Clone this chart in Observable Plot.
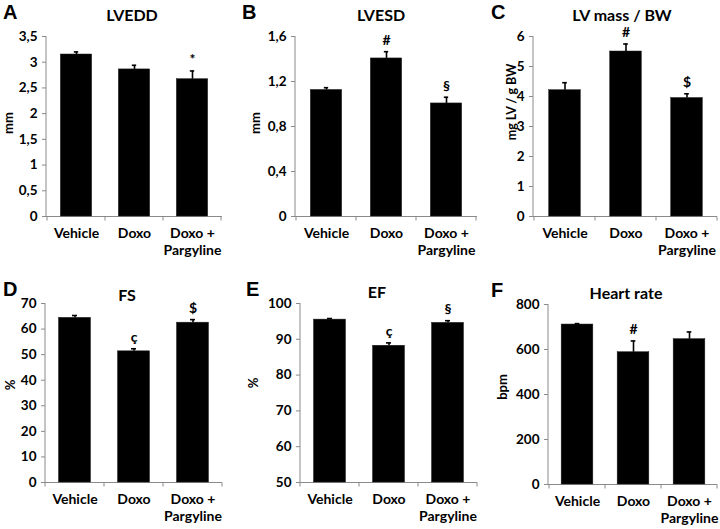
<!DOCTYPE html>
<html><head><meta charset="utf-8">
<script src="https://cdn.jsdelivr.net/npm/d3@7"></script>
<script src="https://cdn.jsdelivr.net/npm/@observablehq/plot@0.6"></script>
<style>
body{margin:0;background:#fff;}
#fig{position:relative;width:720px;height:529px;overflow:hidden;font-family:Lato,"Open Sans",sans-serif;}
.panel{position:absolute;width:240px;}
.lbl{position:absolute;font-weight:bold;color:#000;white-space:nowrap;line-height:1;}
.letter{font-family:"Liberation Sans",Arial,sans-serif;font-size:20px;transform:translate(0,-50%);}
.title{font-size:16px;transform:translate(-50%,-50%);}
.ylab{font-size:13px;transform:translate(-50%,-50%) rotate(-90deg);}
.ylab.small{font-size:12.5px;}
</style></head><body><div id="fig"></div>
<script>
// ---- data ----
const groups = ["Vehicle", "Doxo", "Doxo + Pargyline"];

const lvedd = [3.15, 2.86, 2.67];
const lveddErr = [0.05, 0.08, 0.16];
const lveddSig = ["", "", "*"];
const lveddTicks = [0, 0.5, 1, 1.5, 2, 2.5, 3, 3.5];

const lvesd = [1.125, 1.405, 1.005];
const lvesdErr = [0.02, 0.06, 0.055];
const lvesdSig = ["", "#", "§"];
const lvesdTicks = [0, 0.4, 0.8, 1.2, 1.6];

const lvmass = [4.21, 5.5, 3.95];
const lvmassErr = [0.25, 0.25, 0.14];
const lvmassSig = ["", "#", "$"];
const lvmassTicks = [0, 1, 2, 3, 4, 5, 6];

const fs = [64.4, 51.3, 62.5];
const fsErr = [0.9, 1.0, 1.2];
const fsSig = ["", "ç", "$"];
const fsTicks = [0, 10, 20, 30, 40, 50, 60, 70];

const ef = [95.5, 88.2, 94.6];
const efErr = [0.3, 0.8, 0.6];
const efSig = ["", "ç", "§"];
const efTicks = [50, 60, 70, 80, 90, 100];

const hr = [711, 588, 646];
const hrErr = [4, 50, 32];
const hrSig = ["", "#", ""];
const hrTicks = [0, 200, 400, 600, 800];

// ---- layout ----
const AXIS = "#8a8a8a";
const panels = [
  {letter:"A", title:"LVEDD", ylabel:"mm", v:lvedd, e:lveddErr, s:lveddSig, t:lveddTicks,
   left:0, top:0, h:262, ml:46, mr:18, mt:36, mb:46, letterPos:[3,11.5], titlePos:[132,15], ylabPos:[8,123]},
  {letter:"B", title:"LVESD", ylabel:"mm", v:lvesd, e:lvesdErr, s:lvesdSig, t:lvesdTicks,
   left:240, top:0, h:262, ml:55, mr:3, mt:36, mb:46, letterPos:[2,11.5], titlePos:[141,15], ylabPos:[15,123]},
  {letter:"C", title:"LV mass / BW", ylabel:"mg LV / g BW", v:lvmass, e:lvmassErr, s:lvmassSig, t:lvmassTicks,
   left:480, top:0, h:262, ml:53, mr:3, mt:36, mb:46, letterPos:[11,11.5], titlePos:[142,15], ylabPos:[32,102], small:true},
  {letter:"D", title:"FS", ylabel:"%", v:fs, e:fsErr, s:fsSig, t:fsTicks,
   left:0, top:270, h:259, ml:45, mr:18, mt:33, mb:47, letterPos:[3,19], titlePos:[127,25], ylabPos:[10,115]},
  {letter:"E", title:"EF", ylabel:"%", v:ef, e:efErr, s:efSig, t:efTicks,
   left:240, top:270, h:259, ml:60, mr:3, mt:33, mb:47, letterPos:[6,19], titlePos:[137,22], ylabPos:[13,113]},
  {letter:"F", title:"Heart rate", ylabel:"bpm", v:hr, e:hrErr, s:hrSig, t:hrTicks,
   left:480, top:270, h:259, ml:68, mr:3, mt:34, mb:45, letterPos:[11,20], titlePos:[146,22.5], ylabPos:[22,117]}
];

const fmt = d => String(d).replace(".", ",");

function axisLines(index, scales, values, dims) {
  const {width, height, marginLeft, marginRight, marginTop, marginBottom} = dims;
  const x = scales.x;
  const y0 = height - marginBottom + 0.5;
  const g = d3.create("svg:g").attr("stroke", AXIS).attr("stroke-width", 1).attr("fill", "none");
  g.append("line").attr("x1", marginLeft).attr("x2", marginLeft).attr("y1", marginTop).attr("y2", y0);
  g.append("line").attr("x1", marginLeft).attr("x2", width - marginRight).attr("y1", y0).attr("y2", y0);
  const dom = x.domain();
  const bw = x.bandwidth ? x.bandwidth() : (width - marginLeft - marginRight) / dom.length;
  const edges = dom.map(d => x(d)).concat([x(dom[dom.length - 1]) + bw]);
  for (const ex of edges) g.append("line").attr("x1", ex).attr("x2", ex).attr("y1", y0).attr("y2", y0 + 4);
  return g.node();
}

const fig = document.getElementById("fig");
for (const p of panels) {
  const data = groups.map((g, i) => ({group: g, value: p.v[i], err: p.e[i], sig: p.s[i]}));
  const bw = (240 - p.ml - p.mr) / groups.length;
  const barInset = (bw - 32) / 2;
  const capInset = bw / 2 - 2.5;
  const base = p.t[0];
  const top = p.t[p.t.length - 1];
  const chart = Plot.plot({
    width: 240, height: p.h,
    marginLeft: p.ml, marginRight: p.mr, marginTop: p.mt, marginBottom: p.mb,
    style: {fontFamily: "Lato, sans-serif", fontWeight: "bold", fontSize: "13px", background: "transparent", overflow: "visible"},
    x: {domain: groups, padding: 0},
    y: {domain: [base, top]},
    marks: [
      axisLines,
      Plot.barY(data, {x: "group", y1: base, y2: "value", fill: "#000", stroke: "#222", strokeWidth: 0.5, insetLeft: barInset, insetRight: barInset}),
      Plot.ruleX(data, {x: "group", y1: "value", y2: d => d.value + d.err, stroke: "#000", strokeWidth: 1.6}),
      Plot.tickY(data, {x: "group", y: d => d.value + d.err, stroke: "#000", strokeWidth: 1.6, insetLeft: capInset, insetRight: capInset}),
      Plot.text(data.filter(d => d.sig), {x: "group", y: d => d.value + d.err, text: "sig", dy: -11, fontSize: 14, fontWeight: "bold", fill: "#000"}),
      Plot.axisY({ticks: p.t, tickSize: 4, tickPadding: 5, tickFormat: fmt, stroke: AXIS, fill: "#000", fontSize: 13.5, fontWeight: "bold", label: null}),
      Plot.axisX({tickSize: 0, tickPadding: 10, fontSize: 14, fontWeight: "bold", lineHeight: 1.2, fill: "#000",
        tickFormat: d => d.replace(" + ", " +\n"), label: null})
    ]
  });
  const div = document.createElement("div");
  div.className = "panel";
  div.style.left = p.left + "px";
  div.style.top = p.top + "px";
  div.appendChild(chart);
  fig.appendChild(div);

  const addLabel = (cls, text, pos) => {
    const el = document.createElement("div");
    el.className = "lbl " + cls;
    el.textContent = text;
    el.style.left = (p.left + pos[0]) + "px";
    el.style.top = (p.top + pos[1]) + "px";
    fig.appendChild(el);
  };
  addLabel("letter", p.letter, p.letterPos);
  addLabel("title", p.title, p.titlePos);
  addLabel(p.small ? "ylab small" : "ylab", p.ylabel, p.ylabPos);
}
</script></body></html>
